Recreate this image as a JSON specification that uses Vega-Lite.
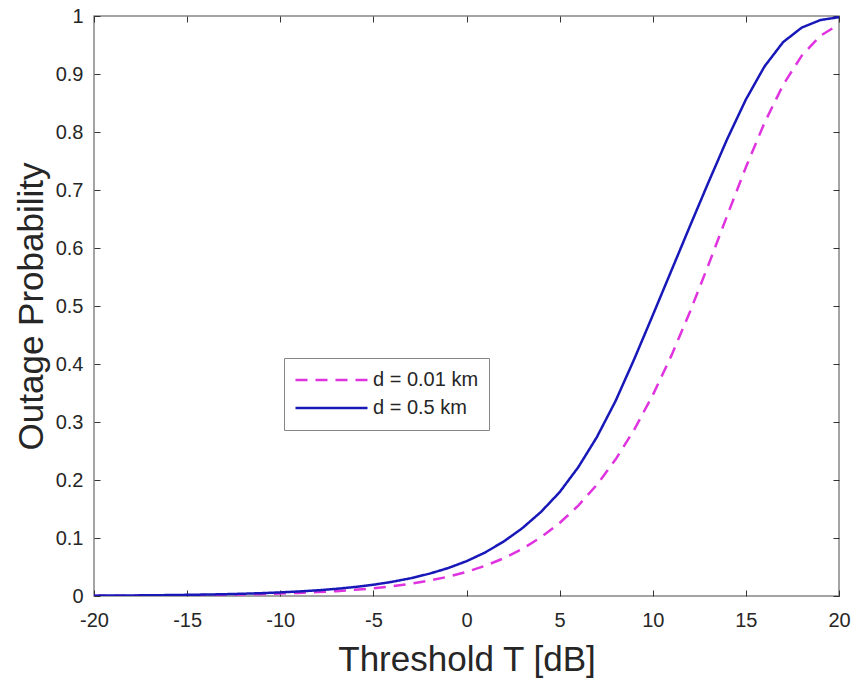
{
  "$schema": "https://vega.github.io/schema/vega-lite/v6.json",
  "width": 745,
  "height": 580,
  "autosize": {"type": "none"},
  "padding": {"left": 94, "top": 16, "right": 14, "bottom": 88},
  "background": "white",
  "config": {
    "view": {"stroke": "#868686", "strokeWidth": 1.5},
    "font": "Liberation Sans",
    "axis": {"grid": false, "domain": false, "zindex": 1, "labelFlush": false, "labelOverlap": false, "tickColor": "#333333", "tickSize": 6, "tickWidth": 1, "labelFont": "Liberation Sans", "labelFontSize": 20, "labelColor": "#262626", "titleFont": "Liberation Sans", "titleFontWeight": "normal", "titleColor": "#262626", "titleFontSize": 35}
  },
  "data": {"values": [
    {"T": -20, "P": 0.0004, "s": "d = 0.01 km"}, {"T": -19, "P": 0.0005, "s": "d = 0.01 km"}, {"T": -18, "P": 0.0007, "s": "d = 0.01 km"}, {"T": -17, "P": 0.0008, "s": "d = 0.01 km"}, {"T": -16, "P": 0.0011, "s": "d = 0.01 km"}, {"T": -15, "P": 0.0013, "s": "d = 0.01 km"}, {"T": -14, "P": 0.0017, "s": "d = 0.01 km"}, {"T": -13, "P": 0.0021, "s": "d = 0.01 km"}, {"T": -12, "P": 0.0027, "s": "d = 0.01 km"}, {"T": -11, "P": 0.0034, "s": "d = 0.01 km"}, {"T": -10, "P": 0.0042, "s": "d = 0.01 km"}, {"T": -9, "P": 0.0053, "s": "d = 0.01 km"}, {"T": -8, "P": 0.0067, "s": "d = 0.01 km"}, {"T": -7, "P": 0.0084, "s": "d = 0.01 km"}, {"T": -6, "P": 0.0106, "s": "d = 0.01 km"}, {"T": -5, "P": 0.0134, "s": "d = 0.01 km"}, {"T": -4, "P": 0.0168, "s": "d = 0.01 km"}, {"T": -3, "P": 0.0211, "s": "d = 0.01 km"}, {"T": -2, "P": 0.0265, "s": "d = 0.01 km"}, {"T": -1, "P": 0.0332, "s": "d = 0.01 km"}, {"T": 0, "P": 0.0416, "s": "d = 0.01 km"}, {"T": 1, "P": 0.0521, "s": "d = 0.01 km"}, {"T": 2, "P": 0.0651, "s": "d = 0.01 km"}, {"T": 3, "P": 0.0813, "s": "d = 0.01 km"}, {"T": 4, "P": 0.1013, "s": "d = 0.01 km"}, {"T": 5, "P": 0.1258, "s": "d = 0.01 km"}, {"T": 6, "P": 0.1557, "s": "d = 0.01 km"}, {"T": 7, "P": 0.1918, "s": "d = 0.01 km"}, {"T": 8, "P": 0.2352, "s": "d = 0.01 km"}, {"T": 9, "P": 0.2865, "s": "d = 0.01 km"}, {"T": 10, "P": 0.3462, "s": "d = 0.01 km"}, {"T": 11, "P": 0.4144, "s": "d = 0.01 km"}, {"T": 12, "P": 0.4901, "s": "d = 0.01 km"}, {"T": 13, "P": 0.5717, "s": "d = 0.01 km"}, {"T": 14, "P": 0.6562, "s": "d = 0.01 km"}, {"T": 15, "P": 0.7392, "s": "d = 0.01 km"}, {"T": 16, "P": 0.8158, "s": "d = 0.01 km"}, {"T": 17, "P": 0.8812, "s": "d = 0.01 km"}, {"T": 18, "P": 0.9316, "s": "d = 0.01 km"}, {"T": 19, "P": 0.9658, "s": "d = 0.01 km"}, {"T": 20, "P": 0.9857, "s": "d = 0.01 km"},
    {"T": -20, "P": 0.0006, "s": "d = 0.5 km"}, {"T": -19, "P": 0.0008, "s": "d = 0.5 km"}, {"T": -18, "P": 0.001, "s": "d = 0.5 km"}, {"T": -17, "P": 0.0012, "s": "d = 0.5 km"}, {"T": -16, "P": 0.0016, "s": "d = 0.5 km"}, {"T": -15, "P": 0.002, "s": "d = 0.5 km"}, {"T": -14, "P": 0.0025, "s": "d = 0.5 km"}, {"T": -13, "P": 0.0031, "s": "d = 0.5 km"}, {"T": -12, "P": 0.0039, "s": "d = 0.5 km"}, {"T": -11, "P": 0.0049, "s": "d = 0.5 km"}, {"T": -10, "P": 0.0062, "s": "d = 0.5 km"}, {"T": -9, "P": 0.0078, "s": "d = 0.5 km"}, {"T": -8, "P": 0.0098, "s": "d = 0.5 km"}, {"T": -7, "P": 0.0123, "s": "d = 0.5 km"}, {"T": -6, "P": 0.0155, "s": "d = 0.5 km"}, {"T": -5, "P": 0.0194, "s": "d = 0.5 km"}, {"T": -4, "P": 0.0244, "s": "d = 0.5 km"}, {"T": -3, "P": 0.0306, "s": "d = 0.5 km"}, {"T": -2, "P": 0.0384, "s": "d = 0.5 km"}, {"T": -1, "P": 0.048, "s": "d = 0.5 km"}, {"T": 0, "P": 0.06, "s": "d = 0.5 km"}, {"T": 1, "P": 0.075, "s": "d = 0.5 km"}, {"T": 2, "P": 0.094, "s": "d = 0.5 km"}, {"T": 3, "P": 0.117, "s": "d = 0.5 km"}, {"T": 4, "P": 0.145, "s": "d = 0.5 km"}, {"T": 5, "P": 0.179, "s": "d = 0.5 km"}, {"T": 6, "P": 0.222, "s": "d = 0.5 km"}, {"T": 7, "P": 0.274, "s": "d = 0.5 km"}, {"T": 8, "P": 0.336, "s": "d = 0.5 km"}, {"T": 9, "P": 0.408, "s": "d = 0.5 km"}, {"T": 10, "P": 0.484, "s": "d = 0.5 km"}, {"T": 11, "P": 0.561, "s": "d = 0.5 km"}, {"T": 12, "P": 0.638, "s": "d = 0.5 km"}, {"T": 13, "P": 0.714, "s": "d = 0.5 km"}, {"T": 14, "P": 0.788, "s": "d = 0.5 km"}, {"T": 15, "P": 0.856, "s": "d = 0.5 km"}, {"T": 16, "P": 0.913, "s": "d = 0.5 km"}, {"T": 17, "P": 0.955, "s": "d = 0.5 km"}, {"T": 18, "P": 0.98, "s": "d = 0.5 km"}, {"T": 19, "P": 0.993, "s": "d = 0.5 km"}, {"T": 20, "P": 0.998, "s": "d = 0.5 km"}
  ]},
  "layer": [
    {
      "mark": {"type": "line", "strokeWidth": 2.5, "clip": true},
      "encoding": {
        "x": {"field": "T", "type": "quantitative", "scale": {"domain": [-20, 20], "nice": false, "zero": false},
          "axis": {"orient": "bottom", "values": [-20, -15, -10, -5, 0, 5, 10, 15, 20], "labelExpr": "datum.value + ''", "ticks": false, "title": "Threshold T [dB]", "labelPadding": 14, "titlePadding": 12}},
        "y": {"field": "P", "type": "quantitative", "scale": {"domain": [0, 1], "nice": false},
          "axis": {"orient": "left", "values": [0, 0.1, 0.2, 0.3, 0.4, 0.5, 0.6, 0.7, 0.8, 0.9, 1], "labelExpr": "datum.value + ''", "ticks": false, "title": "Outage Probability", "labelPadding": 11, "titlePadding": 6}},
        "color": {"field": "s", "type": "nominal",
          "scale": {"domain": ["d = 0.01 km", "d = 0.5 km"], "range": ["#e033e0", "#1818b8"]},
          "legend": {"title": null, "orient": "none", "legendX": 190, "legendY": 342, "padding": 10, "strokeColor": "#868686", "fillColor": "white", "labelFontSize": 20, "labelFont": "Liberation Sans", "labelColor": "#262626", "symbolType": "stroke", "symbolSize": 5184, "symbolStrokeWidth": 2.5, "clipHeight": 24, "rowPadding": 4, "labelOffset": 4}},
        "strokeDash": {"field": "s", "type": "nominal",
          "scale": {"domain": ["d = 0.01 km", "d = 0.5 km"], "range": [[12, 8], [1, 0]]},
          "legend": null}
      }
    },
    {
      "mark": {"type": "line", "opacity": 0},
      "encoding": {
        "x": {"field": "T", "type": "quantitative", "axis": {"orient": "top", "offset": -6, "values": [-20, -15, -10, -5, 0, 5, 10, 15, 20], "labels": false, "title": null}},
        "y": {"field": "P", "type": "quantitative", "axis": {"orient": "right", "offset": -6, "values": [0, 0.1, 0.2, 0.3, 0.4, 0.5, 0.6, 0.7, 0.8, 0.9, 1], "labels": false, "title": null}},
        "detail": {"field": "s"}
      }
    },
    {
      "mark": {"type": "line", "opacity": 0},
      "encoding": {
        "x": {"field": "T", "type": "quantitative", "axis": {"orient": "bottom", "offset": -6, "values": [-20, -15, -10, -5, 0, 5, 10, 15, 20], "labels": false, "title": null}},
        "y": {"field": "P", "type": "quantitative", "axis": {"orient": "left", "offset": -6, "values": [0, 0.1, 0.2, 0.3, 0.4, 0.5, 0.6, 0.7, 0.8, 0.9, 1], "labels": false, "title": null}},
        "detail": {"field": "s"}
      }
    }
  ],
  "resolve": {"axis": {"x": "independent", "y": "independent"}}
}
